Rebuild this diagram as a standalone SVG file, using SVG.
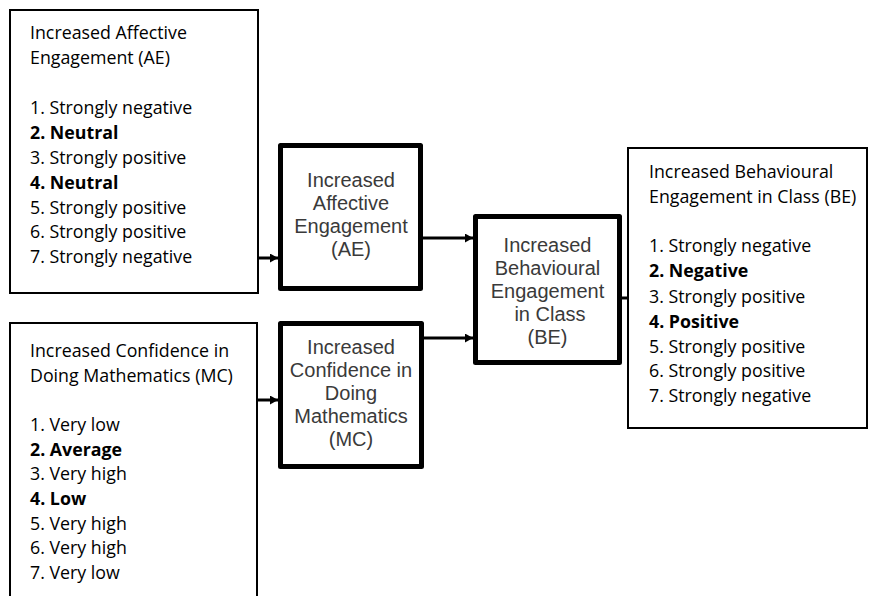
<svg xmlns="http://www.w3.org/2000/svg" width="879" height="596" viewBox="0 0 879 596">
<style>
.outer{fill:#fff;stroke:#000;stroke-width:2}
.inner{fill:#fff;stroke:#000;stroke-width:5;stroke-linejoin:round}
.lt{font-family:"Open Sans","Noto Sans",sans-serif;font-size:17.8px;fill:#000}
.b{font-weight:bold}
.mt{font-family:"Liberation Sans",Arial,sans-serif;font-size:20px;fill:#3a3a3a;text-anchor:middle}
.con{stroke:#000;stroke-width:3;fill:none}
</style>
<defs>
<marker id="ah" viewBox="0 0 8 9" refX="8" refY="4.5" markerWidth="8" markerHeight="9" markerUnits="userSpaceOnUse" orient="auto">
<path d="M0,0 L8,4.5 L0,9 Z" fill="#000"/>
</marker>
</defs>
<rect width="879" height="596" fill="#fff"/>
<g id="connectors">
<line class="con" x1="258" y1="258" x2="278" y2="258" marker-end="url(#ah)"/>
<line class="con" x1="258" y1="400" x2="278" y2="400" marker-end="url(#ah)"/>
<line class="con" x1="423" y1="238" x2="473" y2="238" marker-end="url(#ah)"/>
<line class="con" x1="423" y1="338" x2="473" y2="338" marker-end="url(#ah)"/>
<line class="con" x1="622" y1="298" x2="628" y2="298"/>
</g>
<g id="ae-list">
<rect class="outer" x="10" y="10" width="248" height="283"/>
<text class="lt" x="30" y="39">Increased Affective</text>
<text class="lt" x="30" y="64">Engagement (AE)</text>
<text class="lt" x="30" y="114">1. Strongly negative</text>
<text class="lt b" x="30" y="139">2. Neutral</text>
<text class="lt" x="30" y="164">3. Strongly positive</text>
<text class="lt b" x="30" y="189">4. Neutral</text>
<text class="lt" x="30" y="214">5. Strongly positive</text>
<text class="lt" x="30" y="238">6. Strongly positive</text>
<text class="lt" x="30" y="263">7. Strongly negative</text>
</g>
<g id="mc-list">
<rect class="outer" x="10" y="323" width="247" height="290"/>
<text class="lt" x="30" y="357">Increased Confidence in</text>
<text class="lt" x="30" y="382">Doing Mathematics (MC)</text>
<text class="lt" x="30" y="431">1. Very low</text>
<text class="lt b" x="30" y="456">2. Average</text>
<text class="lt" x="30" y="480">3. Very high</text>
<text class="lt b" x="30" y="505">4. Low</text>
<text class="lt" x="30" y="530">5. Very high</text>
<text class="lt" x="30" y="554">6. Very high</text>
<text class="lt" x="30" y="579">7. Very low</text>
</g>
<g id="be-list">
<rect class="outer" x="628" y="148" width="239" height="280"/>
<text class="lt" x="649" y="178">Increased Behavioural</text>
<text class="lt" x="649" y="203">Engagement in Class (BE)</text>
<text class="lt" x="649" y="252">1. Strongly negative</text>
<text class="lt b" x="649" y="277">2. Negative</text>
<text class="lt" x="649" y="303">3. Strongly positive</text>
<text class="lt b" x="649" y="328">4. Positive</text>
<text class="lt" x="649" y="353">5. Strongly positive</text>
<text class="lt" x="649" y="377">6. Strongly positive</text>
<text class="lt" x="649" y="402">7. Strongly negative</text>
</g>
<g id="ae">
<rect class="inner" x="280.5" y="145.5" width="140" height="143"/>
<text class="mt" x="351" y="187">Increased</text>
<text class="mt" x="351" y="210">Affective</text>
<text class="mt" x="351" y="233">Engagement</text>
<text class="mt" x="351" y="256">(AE)</text>
</g>
<g id="mc">
<rect class="inner" x="280.5" y="323.5" width="141" height="143"/>
<text class="mt" x="351" y="354">Increased</text>
<text class="mt" x="351" y="377">Confidence in</text>
<text class="mt" x="351" y="400">Doing</text>
<text class="mt" x="351" y="423">Mathematics</text>
<text class="mt" x="351" y="446">(MC)</text>
</g>
<g id="be">
<rect class="inner" x="475.5" y="216.5" width="144" height="146"/>
<text class="mt" x="547.5" y="252">Increased</text>
<text class="mt" x="547.5" y="275">Behavioural</text>
<text class="mt" x="547.5" y="298">Engagement</text>
<text class="mt" x="550" y="321">in Class</text>
<text class="mt" x="547.5" y="344">(BE)</text>
</g>
</svg>
